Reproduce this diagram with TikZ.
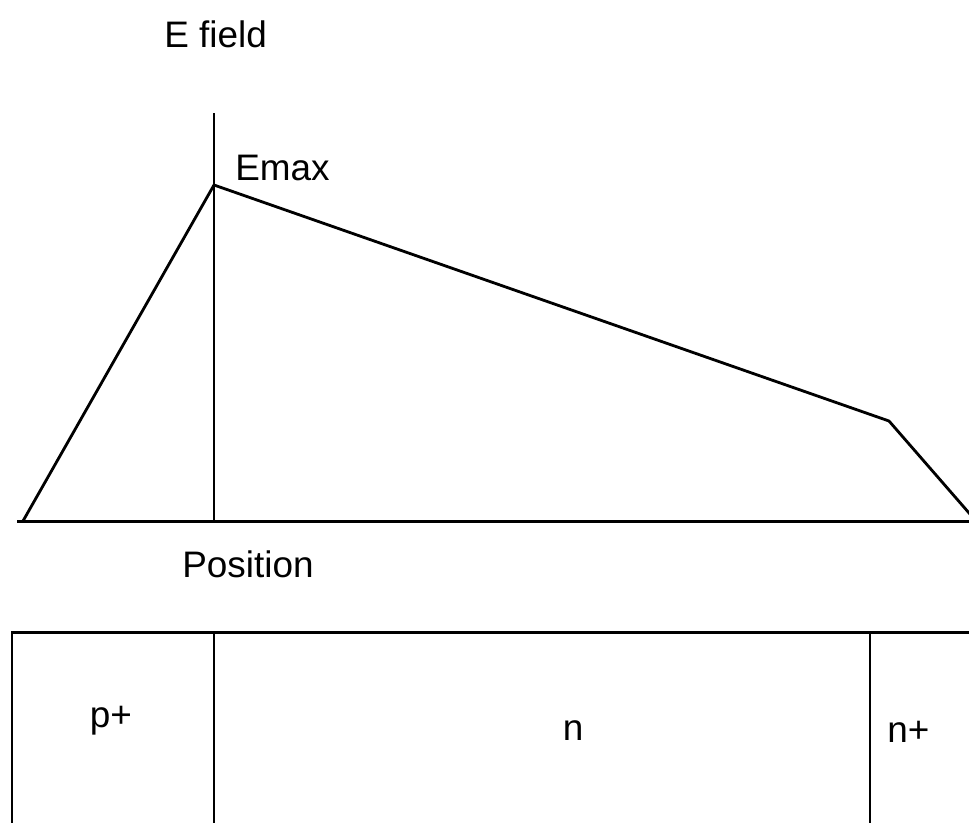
\documentclass[tikz,border=0pt]{standalone}
\usepackage{fontspec}
\setmainfont{Liberation Sans}
\begin{document}
\begin{tikzpicture}[x=0.02cm, y=-0.02cm,
        txt/.style={font=\fontsize{21}{24}\selectfont, inner sep=0pt},
        curve/.style={line width=1.6pt, line join=round},
        axis/.style={line width=1.7pt},
        wall/.style={line width=1.2pt}
    ]
    \useasboundingbox (0,0) rectangle (969,822);
    % E field profile
    \coordinate (x_left) at (17,521);
    \coordinate (x_right) at (985,521);
    \coordinate (start) at (23,521);
    \coordinate (peak) at (214,185);
    \coordinate (knee) at (889,421);
    \coordinate (stop) at (976,521);
    \coordinate (junc_top) at (214,113);
    \coordinate (junc_bot) at (214,521);
    \draw[axis] (x_left) -- (x_right);
    \draw[wall] (junc_top) -- (junc_bot);
    \draw[curve] (start) -- (peak) -- (knee) -- (stop);
    \node[txt, anchor=base west] (efield) at (164,47) {E field};
    \node[txt, anchor=base west] (emax) at (235,180) {Emax};
    \node[txt, anchor=base west] (pos) at (182,577) {Position};

    % Device layers
    \coordinate (box_tl) at (12,632);
    \coordinate (box_tr) at (985,632);
    \coordinate (box_bl) at (12,830);
    \coordinate (pn_top) at (214,632);
    \coordinate (pn_bot) at (214,830);
    \coordinate (nn_top) at (870,634);
    \coordinate (nn_bot) at (870,830);
    \draw[axis] (box_bl) -- (box_tl) -- (box_tr);
    \draw[wall] (pn_top) -- (pn_bot);
    \draw[wall] (nn_top) -- (nn_bot);
    \node[txt, anchor=base] (pplus) at (111,727) {p+};
    \node[txt, anchor=base] (nlayer) at (573,740) {n};
    \node[txt, anchor=base west] (nplus) at (887,742) {n+};
\end{tikzpicture}
\end{document}
